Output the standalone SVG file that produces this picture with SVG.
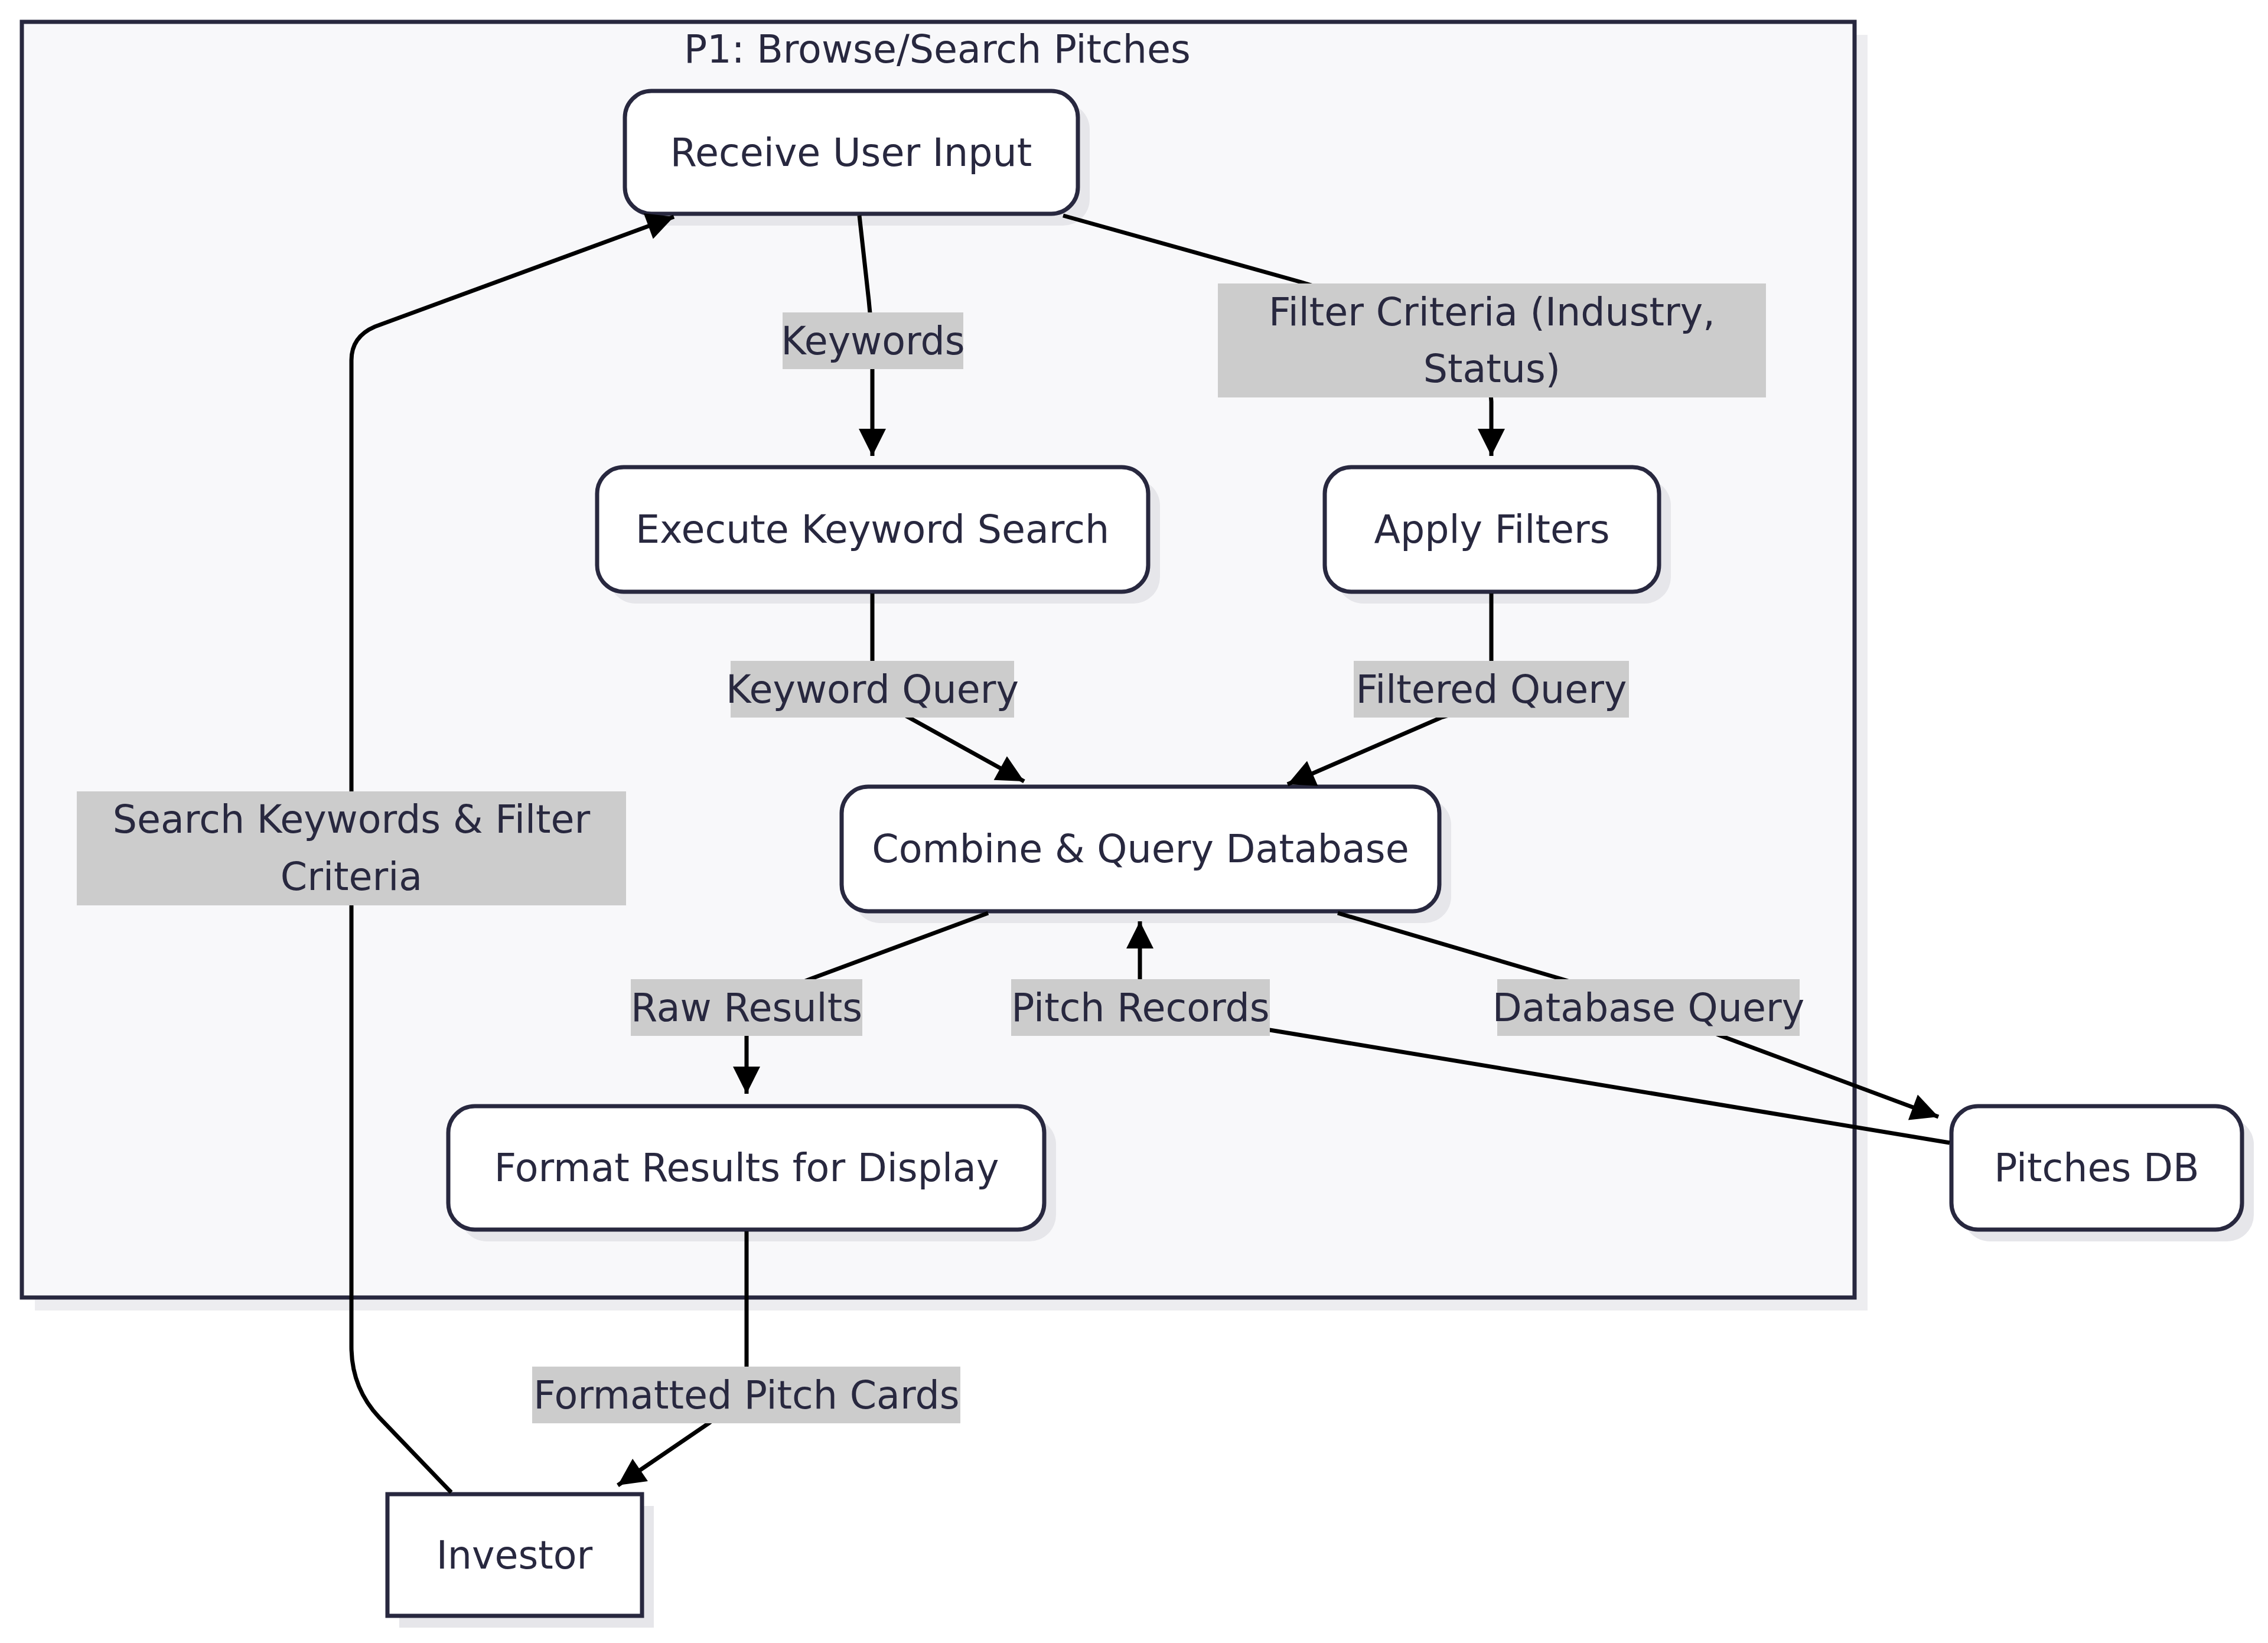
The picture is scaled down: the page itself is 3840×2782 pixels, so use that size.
<svg xmlns="http://www.w3.org/2000/svg" width="3840" height="2782" viewBox="0 0 3840 2782">
<style>
text{font-family:"DejaVu Sans","Noto Sans",sans-serif;fill:#28283f;font-size:65px;text-anchor:middle;dominant-baseline:central}
.node{fill:#ffffff;stroke:#28283f;stroke-width:7}
.shadow{fill:#e6e6ea}
.lbl{fill:#cccccc}
.edge{fill:none;stroke:#000000;stroke-width:7}
</style>
<defs>
<marker id="arr" viewBox="0 0 10 10" refX="10" refY="5" markerUnits="userSpaceOnUse" markerWidth="52" markerHeight="46" orient="auto">
<path d="M0,0 L10,5 L0,10 z" fill="#000000"/>
</marker>
</defs>
<rect width="3840" height="2782" fill="#ffffff"/>
<g id="cluster-P1">
<rect x="59" y="59" width="3103" height="2160" fill="#ededf0"/>
<rect x="37" y="37" width="3103" height="2160" fill="#f8f8fa" stroke="#28283f" stroke-width="7"/>
<text x="1587" y="83">P1: Browse/Search Pitches</text>
</g>
<g id="node-receive">
<rect class="shadow" x="1078" y="174" width="767" height="208" rx="45"/>
<rect class="node" x="1058" y="154" width="767" height="208" rx="45"/>
<text x="1441" y="258">Receive User Input</text>
</g>
<g id="node-execute">
<rect class="shadow" x="1031" y="811" width="933" height="211" rx="45"/>
<rect class="node" x="1011" y="791" width="933" height="211" rx="45"/>
<text x="1477" y="896">Execute Keyword Search</text>
</g>
<g id="node-apply">
<rect class="shadow" x="2263" y="811" width="566" height="211" rx="45"/>
<rect class="node" x="2243" y="791" width="566" height="211" rx="45"/>
<text x="2526" y="896">Apply Filters</text>
</g>
<g id="node-combine">
<rect class="shadow" x="1445" y="1352" width="1012" height="211" rx="45"/>
<rect class="node" x="1425" y="1332" width="1012" height="211" rx="45"/>
<text x="1931" y="1437">Combine &amp; Query Database</text>
</g>
<g id="node-format">
<rect class="shadow" x="779" y="1893" width="1009" height="209" rx="45"/>
<rect class="node" x="759" y="1873" width="1009" height="209" rx="45"/>
<text x="1264" y="1977">Format Results for Display</text>
</g>
<g id="node-pitchesdb">
<rect class="shadow" x="3324" y="1893" width="492" height="209" rx="45"/>
<rect class="node" x="3304" y="1873" width="492" height="209" rx="45"/>
<text x="3550" y="1977">Pitches DB</text>
</g>
<g id="node-investor">
<rect class="shadow" x="676" y="2550" width="431" height="206"/>
<rect class="node" x="656" y="2530" width="431" height="206"/>
<text x="871" y="2633">Investor</text>
</g>
<g id="connectors">
<path class="edge" d="M1455,365 L1470,500 Q1477,560 1477,620 L1477,772" marker-end="url(#arr)"/>
<path class="edge" d="M1800,365 L2204,478 Q2525,575 2525,680 L2525,772" marker-end="url(#arr)"/>
<path class="edge" d="M1477,1005 L1477,1150 Q1477,1190 1530,1210 L1734,1323" marker-end="url(#arr)"/>
<path class="edge" d="M2525,1005 L2525,1150 Q2525,1190 2440,1215 L2180,1328" marker-end="url(#arr)"/>
<path class="edge" d="M1673,1546 L1371,1658 Q1264,1700 1264,1740 L1264,1852" marker-end="url(#arr)"/>
<path class="edge" d="M3301,1935 L2150,1744 Q1930,1700 1930,1660 L1930,1560" marker-end="url(#arr)"/>
<path class="edge" d="M2265,1546 L2645,1658 Q2800,1705 2914,1754 L3282,1891" marker-end="url(#arr)"/>
<path class="edge" d="M1264,2085 L1264,2314 Q1264,2360 1200,2410 L1046,2515" marker-end="url(#arr)"/>
<path class="edge" d="M764,2527 L642,2400 Q595,2350 595,2280 L595,610 Q595,570 635,553 L1141,367" marker-end="url(#arr)"/>
</g>
<g id="edge-labels">
<g id="lbl-keywords"><rect class="lbl" x="1325" y="529" width="306" height="96"/><text x="1478" y="577">Keywords</text></g>
<g id="lbl-filter-criteria"><rect class="lbl" x="2062" y="480" width="928" height="193"/><text x="2526" y="528">Filter Criteria (Industry,</text><text x="2526" y="624">Status)</text></g>
<g id="lbl-keyword-query"><rect class="lbl" x="1237" y="1119" width="480" height="96"/><text x="1477" y="1167">Keyword Query</text></g>
<g id="lbl-filtered-query"><rect class="lbl" x="2292" y="1119" width="466" height="96"/><text x="2525" y="1167">Filtered Query</text></g>
<g id="lbl-search-keywords"><rect class="lbl" x="130" y="1340" width="930" height="193"/><text x="595" y="1387">Search Keywords &amp; Filter</text><text x="595" y="1484">Criteria</text></g>
<g id="lbl-raw-results"><rect class="lbl" x="1068" y="1658" width="392" height="96"/><text x="1264" y="1706">Raw Results</text></g>
<g id="lbl-pitch-records"><rect class="lbl" x="1712" y="1658" width="438" height="96"/><text x="1931" y="1706">Pitch Records</text></g>
<g id="lbl-database-query"><rect class="lbl" x="2535" y="1658" width="512" height="96"/><text x="2791" y="1706">Database Query</text></g>
<g id="lbl-formatted-pitch-cards"><rect class="lbl" x="901" y="2314" width="725" height="96"/><text x="1264" y="2362">Formatted Pitch Cards</text></g>
</g>
</svg>
